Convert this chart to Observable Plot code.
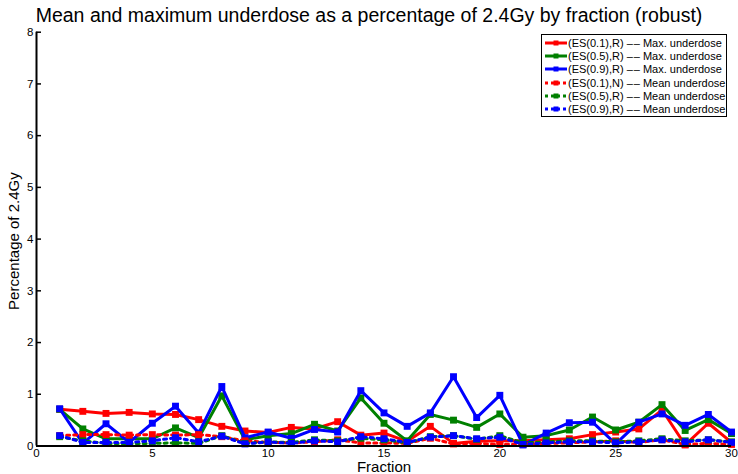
<!DOCTYPE html>
<html><head><meta charset="utf-8">
<script src="https://cdn.jsdelivr.net/npm/d3@7"></script>
<script src="https://cdn.jsdelivr.net/npm/@observablehq/plot@0.6"></script>
<style>
body{margin:0;background:#fff;font-family:"Liberation Sans",Arial,sans-serif;}
#wrap{position:relative;width:738px;height:474px;overflow:hidden;}
#title{height:24px;line-height:30px;font-size:19.5px;text-align:center;color:#000;white-space:nowrap;}
#legend{position:absolute;left:541px;top:34px;width:186px;height:83px;border:1px solid #000;background:#fff;box-sizing:border-box;padding-top:1px;}
.row{height:13.33px;display:flex;align-items:center;font-size:11px;white-space:nowrap;}
.row svg{margin-left:3px;margin-right:1px;flex:none;}
</style></head><body>
<div id="wrap">
<div id="title">Mean and maximum underdose as a percentage of 2.4Gy by fraction (robust)</div>
<div id="chart"></div>
<div id="legend"></div>
</div>
<script>
const fractions = [1,2,3,4,5,6,7,8,9,10,11,12,13,14,15,16,17,18,19,20,21,22,23,24,25,26,27,28,29,30];
const redMax   = [0.71,0.67,0.63,0.65,0.62,0.61,0.51,0.38,0.29,0.26,0.36,0.33,0.47,0.21,0.25,0.09,0.38,0.05,0.09,0.10,0.10,0.12,0.14,0.22,0.27,0.33,0.70,0.02,0.44,0.07];
const greenMax = [0.71,0.33,0.14,0.14,0.14,0.35,0.16,0.97,0.12,0.20,0.24,0.42,0.29,0.93,0.44,0.10,0.61,0.50,0.36,0.62,0.17,0.20,0.31,0.56,0.31,0.46,0.80,0.30,0.51,0.24];
const blueMax  = [0.72,0.05,0.43,0.07,0.44,0.77,0.25,1.15,0.16,0.27,0.15,0.32,0.27,1.07,0.64,0.38,0.64,1.34,0.55,0.98,0.02,0.25,0.45,0.46,0.04,0.46,0.62,0.40,0.61,0.27];
const redMean  = [0.20,0.22,0.22,0.21,0.22,0.21,0.22,0.18,0.10,0.07,0.06,0.08,0.12,0.06,0.06,0.05,0.15,0.04,0.05,0.03,0.04,0.05,0.06,0.08,0.10,0.07,0.12,0.03,0.05,0.03];
const greenMean= [0.18,0.10,0.05,0.05,0.05,0.06,0.05,0.20,0.05,0.08,0.07,0.12,0.10,0.15,0.12,0.06,0.18,0.20,0.13,0.20,0.06,0.08,0.10,0.10,0.08,0.10,0.14,0.10,0.12,0.08];
const blueMean = [0.20,0.07,0.07,0.07,0.10,0.16,0.08,0.19,0.04,0.08,0.05,0.10,0.08,0.18,0.14,0.07,0.17,0.20,0.14,0.17,0.03,0.06,0.08,0.08,0.06,0.08,0.12,0.08,0.12,0.07];
const seriesNames = ["(ES(0.1),R) \u2013\u200a\u2013 Max. underdose","(ES(0.5),R) \u2013\u200a\u2013 Max. underdose","(ES(0.9),R) \u2013\u200a\u2013 Max. underdose","(ES(0.1),N) \u2013\u200a\u2013 Mean underdose","(ES(0.5),R) \u2013\u200a\u2013 Mean underdose","(ES(0.9),R) \u2013\u200a\u2013 Mean underdose"];
const seriesColors = ["#ff0000","#008000","#0000ff","#ff0000","#008000","#0000ff"];
const seriesDashed = [false,false,false,true,true,true];
const seriesValues = [redMax,greenMax,blueMax,redMean,greenMean,blueMean];
const xTicks = [0,5,10,15,20,25,30];
const yTicks = [0,1,2,3,4,5,6,7,8];

const marks = [];
seriesValues.forEach((vals, s) => {
  const rows = fractions.map((f, i) => ({x: f, y: vals[i]}));
  marks.push(Plot.line(rows, {x: "x", y: "y", stroke: seriesColors[s], strokeWidth: 3,
    strokeDasharray: seriesDashed[s] ? "3,4" : null}));
  marks.push(Plot.dot(rows, {x: "x", y: "y", symbol: "square", fill: seriesColors[s], r: 3.9}));
});

const chart = Plot.plot({
  width: 738, height: 450,
  marginTop: 7.7, marginBottom: 28.5, marginLeft: 36, marginRight: 7,
  style: {fontFamily: "'Liberation Sans', Arial, sans-serif", fontSize: "11.5px", background: "white", overflow: "visible", color: "black"},
  x: {domain: [0, 30]},
  y: {domain: [0, 8]},
  marks: [
    ...marks,
    Plot.ruleY([0], {stroke: "black", strokeWidth: 2}),
    Plot.ruleX([0], {stroke: "black", strokeWidth: 2}),
    Plot.axisY({ticks: yTicks, tickSize: -5, tickPadding: 8, tickFormat: d => String(d), label: null, strokeWidth: 1.5}),
    Plot.axisX({ticks: xTicks, tickSize: 0, tickPadding: 3, tickFormat: d => String(d), label: null}),
    Plot.text(["Fraction"], {frameAnchor: "bottom", dy: 26, lineAnchor: "bottom", textAnchor: "middle", fontSize: 15}),
    Plot.text(["Percentage of 2.4Gy"], {frameAnchor: "left", rotate: -90, dx: -22, dy: 2, textAnchor: "middle", lineAnchor: "middle", fontSize: 15})
  ]
});
document.getElementById("chart").appendChild(chart);

const leg = document.getElementById("legend");
seriesNames.forEach((name, s) => {
  const row = document.createElement("div");
  row.className = "row";
  const c = seriesColors[s];
  row.innerHTML = `<svg width="22" height="8"><line x1="0" x2="22" y1="4" y2="4" stroke="${c}" stroke-width="3" ${seriesDashed[s] ? 'stroke-dasharray="3,3"' : ''}/><rect x="8.5" y="1.5" width="5" height="5" fill="${c}"/></svg><span>${name}</span>`;
  leg.appendChild(row);
});
</script>
</body></html>
